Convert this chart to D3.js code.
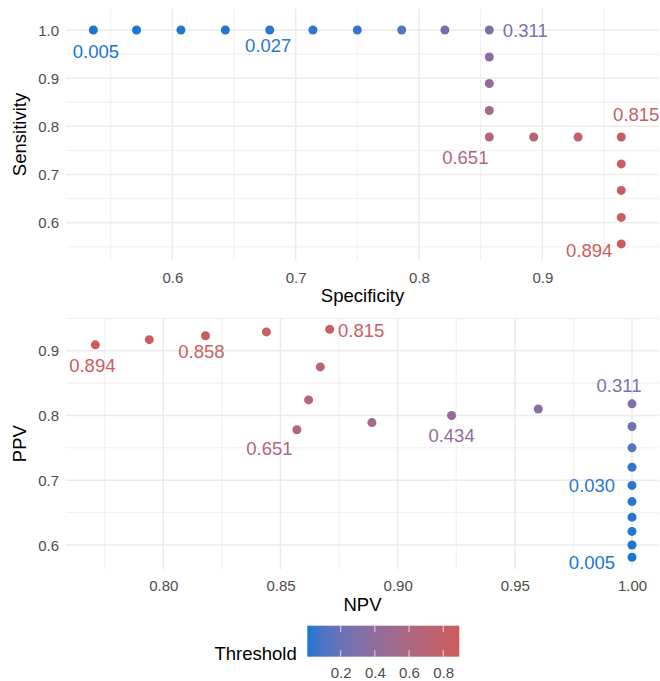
<!DOCTYPE html>
<html>
<head>
<meta charset="utf-8">
<script src="https://cdn.jsdelivr.net/npm/d3@7"></script>
<style>
  html, body { margin: 0; padding: 0; background: #ffffff; }
  svg { display: block; font-family: "Liberation Sans", Arial, Helvetica, sans-serif; }
</style>
</head>
<body>
<svg id="chart" width="660" height="681"></svg>
<script>
// ---------------- data ----------------
const thresholds  = [0.005, 0.008, 0.012, 0.018, 0.027, 0.030, 0.045, 0.12, 0.25, 0.311, 0.36, 0.434, 0.55, 0.651, 0.70, 0.76, 0.815, 0.835, 0.858, 0.875, 0.894];
const specificity = [0.536, 0.571, 0.607, 0.643, 0.679, 0.714, 0.750, 0.786, 0.821, 0.857, 0.857, 0.857, 0.857, 0.857, 0.893, 0.929, 0.964, 0.964, 0.964, 0.964, 0.964];
const sensitivity = [1.000, 1.000, 1.000, 1.000, 1.000, 1.000, 1.000, 1.000, 1.000, 1.000, 0.944, 0.889, 0.833, 0.778, 0.778, 0.778, 0.778, 0.722, 0.667, 0.611, 0.556];
const npv         = [1.000, 1.000, 1.000, 1.000, 1.000, 1.000, 1.000, 1.000, 1.000, 1.000, 0.960, 0.923, 0.889, 0.857, 0.862, 0.867, 0.871, 0.844, 0.818, 0.794, 0.771];
const ppv         = [0.581, 0.600, 0.621, 0.643, 0.667, 0.692, 0.720, 0.750, 0.783, 0.818, 0.810, 0.800, 0.789, 0.778, 0.824, 0.875, 0.933, 0.929, 0.923, 0.917, 0.909];

const topXTicks = [0.6, 0.7, 0.8, 0.9];
const topYTicks = [0.6, 0.7, 0.8, 0.9, 1.0];
const botXTicks = [0.80, 0.85, 0.90, 0.95, 1.00];
const botYTicks = [0.6, 0.7, 0.8, 0.9];
const legendTicks = [0.2, 0.4, 0.6, 0.8];

// labelled points (index into arrays) for each panel
const topLabelIdx = [0, 4, 9, 13, 16, 20];
const botLabelIdx = [0, 5, 9, 11, 13, 16, 18, 20];

// ---------------- layout / style ----------------
const labelOffsetTop = {0:[2.5,21.5], 4:[-1.5,15.5], 9:[36,0], 13:[-24,20], 16:[15,-22.7], 20:[-32,6]};
const labelOffsetBot = {0:[-40,5.5], 5:[-40,0], 9:[-13,-18.5], 11:[0,19.5], 13:[-27.5,18.5], 16:[31.5,1], 18:[-4,15.5], 20:[-3,20]};

const svg = d3.select("#chart");
const color = d3.scaleLinear().domain(d3.extent(thresholds)).range(["#1976D2", "#CD5C5C"]).interpolate(d3.interpolateLab);
const fmt = d3.format(".3f");
const fmt1 = d3.format(".1f");
const fmt2 = d3.format(".2f");

function panel(opts) {
  const {left, right, top, bottom, xDomain, yDomain, xTicks, yTicks, xMinor, yMinor,
         xs, ys, labelIdx, offsets, xTitle, yTitle, xFmt, yFmt, xLabelY, xTitleY} = opts;
  const x = d3.scaleLinear().domain(xDomain).range([left, right]);
  const y = d3.scaleLinear().domain(yDomain).range([bottom, top]);
  const g = svg.append("g");
  const inX = v => v >= xDomain[0] && v <= xDomain[1];
  const inY = v => v >= yDomain[0] && v <= yDomain[1];
  // minor grid
  g.selectAll(".mx").data(xMinor.filter(inX)).join("line")
    .attr("x1", d => x(d)).attr("x2", d => x(d)).attr("y1", top).attr("y2", bottom)
    .attr("stroke", "#ebebeb").attr("stroke-width", 0.8);
  g.selectAll(".my").data(yMinor.filter(inY)).join("line")
    .attr("y1", d => y(d)).attr("y2", d => y(d)).attr("x1", left).attr("x2", right)
    .attr("stroke", "#ebebeb").attr("stroke-width", 0.8);
  // major grid
  g.selectAll(".gx").data(xTicks).join("line")
    .attr("x1", d => x(d)).attr("x2", d => x(d)).attr("y1", top).attr("y2", bottom)
    .attr("stroke", "#ebebeb").attr("stroke-width", 1.5);
  g.selectAll(".gy").data(yTicks).join("line")
    .attr("y1", d => y(d)).attr("y2", d => y(d)).attr("x1", left).attr("x2", right)
    .attr("stroke", "#ebebeb").attr("stroke-width", 1.5);
  // axes via d3 axis (no domain/ticks, just labels)
  const ax = g.append("g").attr("transform", `translate(0,${xLabelY})`)
    .call(d3.axisBottom(x).tickValues(xTicks).tickFormat(xFmt).tickSize(0).tickPadding(0));
  ax.select(".domain").remove();
  ax.selectAll("text").attr("fill", "#4d4d4d").attr("font-size", 15).attr("dy", 0)
    .attr("font-family", "Liberation Sans, Arial, sans-serif");
  const ay = g.append("g").attr("transform", `translate(${left - 7},0)`)
    .call(d3.axisLeft(y).tickValues(yTicks).tickFormat(yFmt).tickSize(0).tickPadding(0));
  ay.select(".domain").remove();
  ay.selectAll("text").attr("fill", "#4d4d4d").attr("font-size", 15).attr("dy", "0.35em")
    .attr("font-family", "Liberation Sans, Arial, sans-serif");
  // titles
  g.append("text").attr("x", (left + right) / 2).attr("y", xTitleY)
    .attr("text-anchor", "middle").attr("font-size", 18.5).attr("fill", "#000").text(xTitle);
  g.append("text").attr("transform", `translate(20,${(top + bottom) / 2}) rotate(-90)`)
    .attr("text-anchor", "middle").attr("dy", "0.35em").attr("font-size", 18.5).attr("fill", "#000").text(yTitle);
  // points
  const idx = d3.range(thresholds.length);
  g.selectAll("circle").data(idx).join("circle")
    .attr("cx", i => x(xs[i])).attr("cy", i => y(ys[i])).attr("r", 4.5)
    .attr("fill", i => color(thresholds[i]));
  // labels
  g.selectAll(".lab").data(labelIdx).join("text")
    .attr("x", i => x(xs[i]) + offsets[i][0]).attr("y", i => y(ys[i]) + offsets[i][1])
    .attr("text-anchor", "middle").attr("dy", "0.36em").attr("font-size", 18.5)
    .attr("fill", i => color(thresholds[i])).text(i => fmt(thresholds[i]));
}

panel({
  left: 66, right: 659, top: 9, bottom: 260,
  xDomain: [0.5138, 0.9946], yDomain: [0.5226, 1.0436],
  xTicks: topXTicks, yTicks: topYTicks,
  xMinor: [0.55, 0.65, 0.75, 0.85, 0.95], yMinor: [0.55, 0.65, 0.75, 0.85, 0.95],
  xs: specificity, ys: sensitivity, labelIdx: topLabelIdx, offsets: labelOffsetTop,
  xTitle: "Specificity", yTitle: "Sensitivity", xFmt: fmt1, yFmt: fmt1,
  xLabelY: 283, xTitleY: 302
});

panel({
  left: 66, right: 659, top: 318, bottom: 569.3,
  xDomain: [0.75848, 1.01152], yDomain: [0.56248, 0.95049],
  xTicks: botXTicks, yTicks: botYTicks,
  xMinor: [0.775, 0.825, 0.875, 0.925, 0.975], yMinor: [0.65, 0.75, 0.85, 0.95],
  xs: npv, ys: ppv, labelIdx: botLabelIdx, offsets: labelOffsetBot,
  xTitle: "NPV", yTitle: "PPV", xFmt: fmt2, yFmt: fmt1,
  xLabelY: 591, xTitleY: 611
});

// ---------------- legend ----------------
const barX0 = 307.3, barX1 = 459.3, barY0 = 625.7, barY1 = 656.7;
const lx = d3.scaleLinear().domain(d3.extent(thresholds)).range([barX0, barX1]);
const defs = svg.append("defs");
const grad = defs.append("linearGradient").attr("id", "grad").attr("x1", "0%").attr("x2", "100%");
d3.range(0, 1.0001, 0.05).forEach(t => {
  const v = lx.domain()[0] + t * (lx.domain()[1] - lx.domain()[0]);
  grad.append("stop").attr("offset", (t * 100) + "%").attr("stop-color", color(v));
});
svg.append("rect").attr("x", barX0).attr("y", barY0).attr("width", barX1 - barX0).attr("height", barY1 - barY0)
  .attr("fill", "url(#grad)");
legendTicks.forEach(v => {
  svg.append("line").attr("x1", lx(v)).attr("x2", lx(v)).attr("y1", barY0).attr("y2", barY0 + 6.5)
    .attr("stroke", "#ffffff").attr("stroke-opacity", 0.75).attr("stroke-width", 1);
  svg.append("line").attr("x1", lx(v)).attr("x2", lx(v)).attr("y1", barY1 - 6.5).attr("y2", barY1)
    .attr("stroke", "#ffffff").attr("stroke-opacity", 0.75).attr("stroke-width", 1);
});
const lax = svg.append("g").attr("transform", `translate(0,678)`)
  .call(d3.axisBottom(lx).tickValues(legendTicks).tickFormat(fmt1).tickSize(0).tickPadding(0));
lax.select(".domain").remove();
lax.selectAll("text").attr("fill", "#4d4d4d").attr("font-size", 15).attr("dy", 0)
  .attr("font-family", "Liberation Sans, Arial, sans-serif");
svg.append("text").attr("x", 296.7).attr("y", 659.5).attr("text-anchor", "end")
  .attr("font-size", 18.5).attr("fill", "#000").text("Threshold");
</script>
</body>
</html>
